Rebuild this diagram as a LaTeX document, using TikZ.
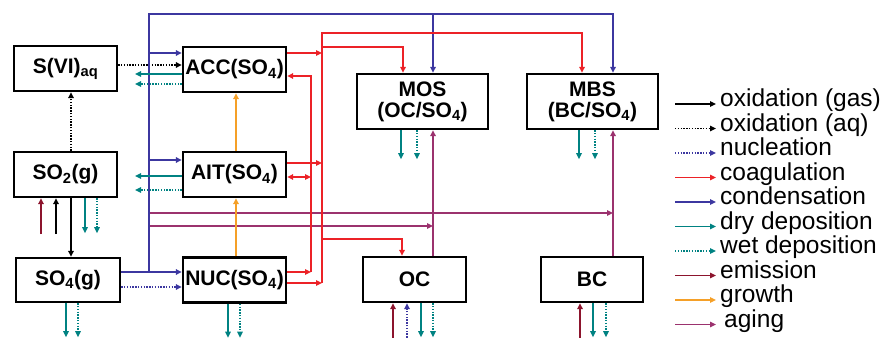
\documentclass[tikz,border=0pt]{standalone}
\usepackage{fontspec}
\setmainfont{Liberation Sans}
\usetikzlibrary{arrows.meta,calc}
\definecolor{coagred}{RGB}{236,34,39}
\definecolor{condblue}{RGB}{60,55,160}
\definecolor{depteal}{RGB}{0,130,130}
\definecolor{emisred}{RGB}{140,20,45}
\definecolor{groworange}{RGB}{245,160,40}
\definecolor{agepurple}{RGB}{155,50,110}

\tikzset{
  flow/.style={line width=1.5pt, -{Triangle[length=6pt,width=5.5pt]}},
  dotline/.style={dash pattern=on 1.4pt off 1.4pt},
  oxg/.style={flow, black},
  oxaq/.style={flow, black, dotline},
  nucl/.style={flow, condblue, dotline},
  coag/.style={flow, coagred},
  cond/.style={flow, condblue},
  dry/.style={flow, depteal},
  wet/.style={flow, depteal, dotline},
  emis/.style={flow, emisred},
  growth/.style={flow, groworange},
  aging/.style={flow, agepurple},
  box/.style={draw, line width=2.4pt, inner sep=0pt, minimum width=103pt,
    minimum height=45pt, align=center, font=\fontsize{21}{21}\selectfont\bfseries},
  legtext/.style={anchor=west, inner xsep=4pt, text height=0.72em,
    text depth=0.2em, font=\fontsize{24.5}{25}\selectfont},
}

\begin{document}
\begin{tikzpicture}[x=1pt,y=-1pt]
\useasboundingbox (0,0) rectangle (885,337);

% species boxes
\node[box] (svi) at (65.5,68.5) {S(VI)\textsubscript{aq}};
\node[box] (acc) at (234.5,69.5) {ACC(SO\textsubscript{4})};
\node[box] (so2) at (65.5,174.5) {SO\textsubscript{2}(g)};
\node[box] (ait) at (234.5,174.5) {AIT(SO\textsubscript{4})};
\node[box, minimum width=104pt, minimum height=44pt] (so4) at (68,280) {SO\textsubscript{4}(g)};
\node[box] (nuc) at (234.5,280) {NUC(SO\textsubscript{4})};
\node[box, minimum width=131pt, minimum height=55pt] (mos) at (422.5,101.5) {MOS\\(OC/SO\textsubscript{4})};
\node[box, minimum width=131pt, minimum height=55pt] (mbs) at (592.5,101.5) {MBS\\(BC/SO\textsubscript{4})};
\node[box] (oc) at (414.5,279.5) {OC};
\node[box, minimum width=102pt] (bc) at (592,279.5) {BC};

% bus lines
\coordinate (cbtop) at (149,14);
\coordinate (rbus) at (322,33);
\coordinate (rloop) at (311,76);
\coordinate (depx) at (135,0);

% sulfur gas chain
\coordinate (so2N) at ([xshift=5.5pt]so2.north);
\draw[oxaq] (so2N) -- (so2N |- svi.south);
\draw[oxg] (so2N |- so2.south) -- (so2N |- so4.north);
\draw[oxg] ([xshift=-9.5pt,yshift=-36pt]so2.south) -- ([xshift=-9.5pt]so2.south);
\draw[emis] ([xshift=-24.5pt,yshift=-36pt]so2.south) -- ([xshift=-24.5pt]so2.south);
\draw[dry] ([xshift=19.5pt]so2.south) -- ++(0,35);
\draw[wet] ([xshift=31.5pt]so2.south) -- ++(0,35);
\coordinate (sviA) at ([yshift=3.5pt]svi.east);
\draw[oxaq] (sviA) -- (sviA -| acc.west);

% aging
\coordinate (ocA) at ([xshift=18.5pt]oc.north);
\coordinate (bcA) at ([xshift=21pt]bc.north);
\coordinate (age1) at (149,213);
\coordinate (age2) at (149,226);
\draw[aging] (ocA) -- (ocA |- mos.south);
\draw[aging] (bcA) -- (bcA |- mbs.south);
\draw[aging] (age1) -- (age1 -| bcA);
\draw[aging] (age2) -- (age2 -| ocA);

% condensation
\draw[cond] ([yshift=8pt]so4.east) -| (cbtop) -| ([xshift=20.5pt]mbs.north);
\draw[cond] ([yshift=8pt]so4.east) -- ([yshift=8pt]nuc.west);
\coordinate (accC) at ([yshift=16.5pt]acc.west);
\draw[cond] (accC -| cbtop) -- (accC);
\coordinate (aitC) at ([yshift=14.5pt]ait.west);
\draw[cond] (aitC -| cbtop) -- (aitC);
\coordinate (mosC) at ([xshift=10.5pt]mos.north);
\draw[cond] (mosC |- cbtop) -- (mosC);

% nucleation
\draw[nucl] ([yshift=-7pt]so4.east) -- ([yshift=-7pt]nuc.west);

% deposition of ACC and AIT
\coordinate (accD) at ([yshift=-4.5pt]acc.west);
\coordinate (accW) at ([yshift=-14.5pt]acc.west);
\coordinate (aitD) at ([yshift=-1.5pt]ait.west);
\coordinate (aitW) at ([yshift=-15.5pt]ait.west);
\draw[dry] (accD) -- (accD -| depx);
\draw[wet] (accW) -- (accW -| depx);
\draw[dry] (aitD) -- (aitD -| depx);
\draw[wet] (aitW) -- (aitW -| depx);

% growth
\draw[growth] ([xshift=1.5pt]nuc.north) -- ([xshift=1.5pt]ait.south);
\draw[growth] ([xshift=1.5pt]ait.north) -- ([xshift=1.5pt]acc.south);

% deposition downward
\draw[dry] ([xshift=-2pt]so4.south) -- ++(0,34);
\draw[wet] ([xshift=10pt]so4.south) -- ++(0,34);
\draw[dry] ([xshift=-6.5pt]nuc.south) -- ++(0,34);
\draw[wet] ([xshift=5.5pt]nuc.south) -- ++(0,34);
\draw[dry] ([xshift=-21.5pt]mos.south) -- ++(0,29);
\draw[wet] ([xshift=-5.5pt]mos.south) -- ++(0,29);
\draw[dry] ([xshift=-13.5pt]mbs.south) -- ++(0,29);
\draw[wet] ([xshift=2.5pt]mbs.south) -- ++(0,29);
\draw[dry] ([xshift=6.5pt]oc.south) -- ++(0,34);
\draw[wet] ([xshift=18.5pt]oc.south) -- ++(0,34);
\draw[dry] ([xshift=1pt]bc.south) -- ++(0,34);
\draw[wet] ([xshift=14pt]bc.south) -- ++(0,34);

% emission into OC and BC
\draw[emis] ([xshift=-21.5pt,yshift=-40pt]oc.south) -- ([xshift=-21.5pt]oc.south);
\draw[nucl] ([xshift=-7.5pt,yshift=-40pt]oc.south) -- ([xshift=-7.5pt]oc.south);
\draw[emis] ([xshift=-12pt,yshift=-40pt]bc.south) -- ([xshift=-12pt]bc.south);

% coagulation
\coordinate (accR) at ([yshift=16.5pt]acc.east);
\coordinate (aitR) at ([yshift=11.5pt]ait.east);
\coordinate (nucR) at ([yshift=-3pt]nuc.east);
\draw[coag] (accR) -- (accR -| rbus);
\draw[coag] (aitR) -- (aitR -| rbus);
\draw[coag] (nucR) -- (nucR -| rbus);
\draw[coag] (rbus |- nucR) -- (rbus) -| ([xshift=-10.5pt]mbs.north);
\draw[coag] ($(rbus)+(0,14)$) -| ([xshift=-19.5pt]mos.north);
\draw[coag] ($(rbus)+(0,206)$) -| ([xshift=-12.5pt]oc.north);
\coordinate (nucL) at ([yshift=8pt]nuc.east);
\coordinate (aitL) at ([yshift=-2.5pt]ait.east);
\draw[coag] (nucL) -- (nucL -| rloop);
\draw[coag] (rloop |- nucL) -- (rloop) -- (rloop -| acc.east);
\draw[coag, {Triangle[length=6pt,width=5.5pt]}-{Triangle[length=6pt,width=5.5pt]}] (aitL) -- (aitL -| rloop);

% legend
\foreach \st/\txt [count=\i] in {oxg/oxidation (gas), oxaq/oxidation (aq),
    nucl/nucleation, coag/coagulation, cond/condensation, dry/dry deposition,
    wet/wet deposition, emis/emission, growth/growth, aging/{\hspace{4pt}aging}}
{
  \coordinate (legA\i) at (675,79.5+24.5*\i);
  \node[legtext] (leg\i) at (716,79.5+24.5*\i) {\txt};
  \draw[\st] (legA\i) -- (leg\i.west);
}
\end{tikzpicture}
\end{document}
